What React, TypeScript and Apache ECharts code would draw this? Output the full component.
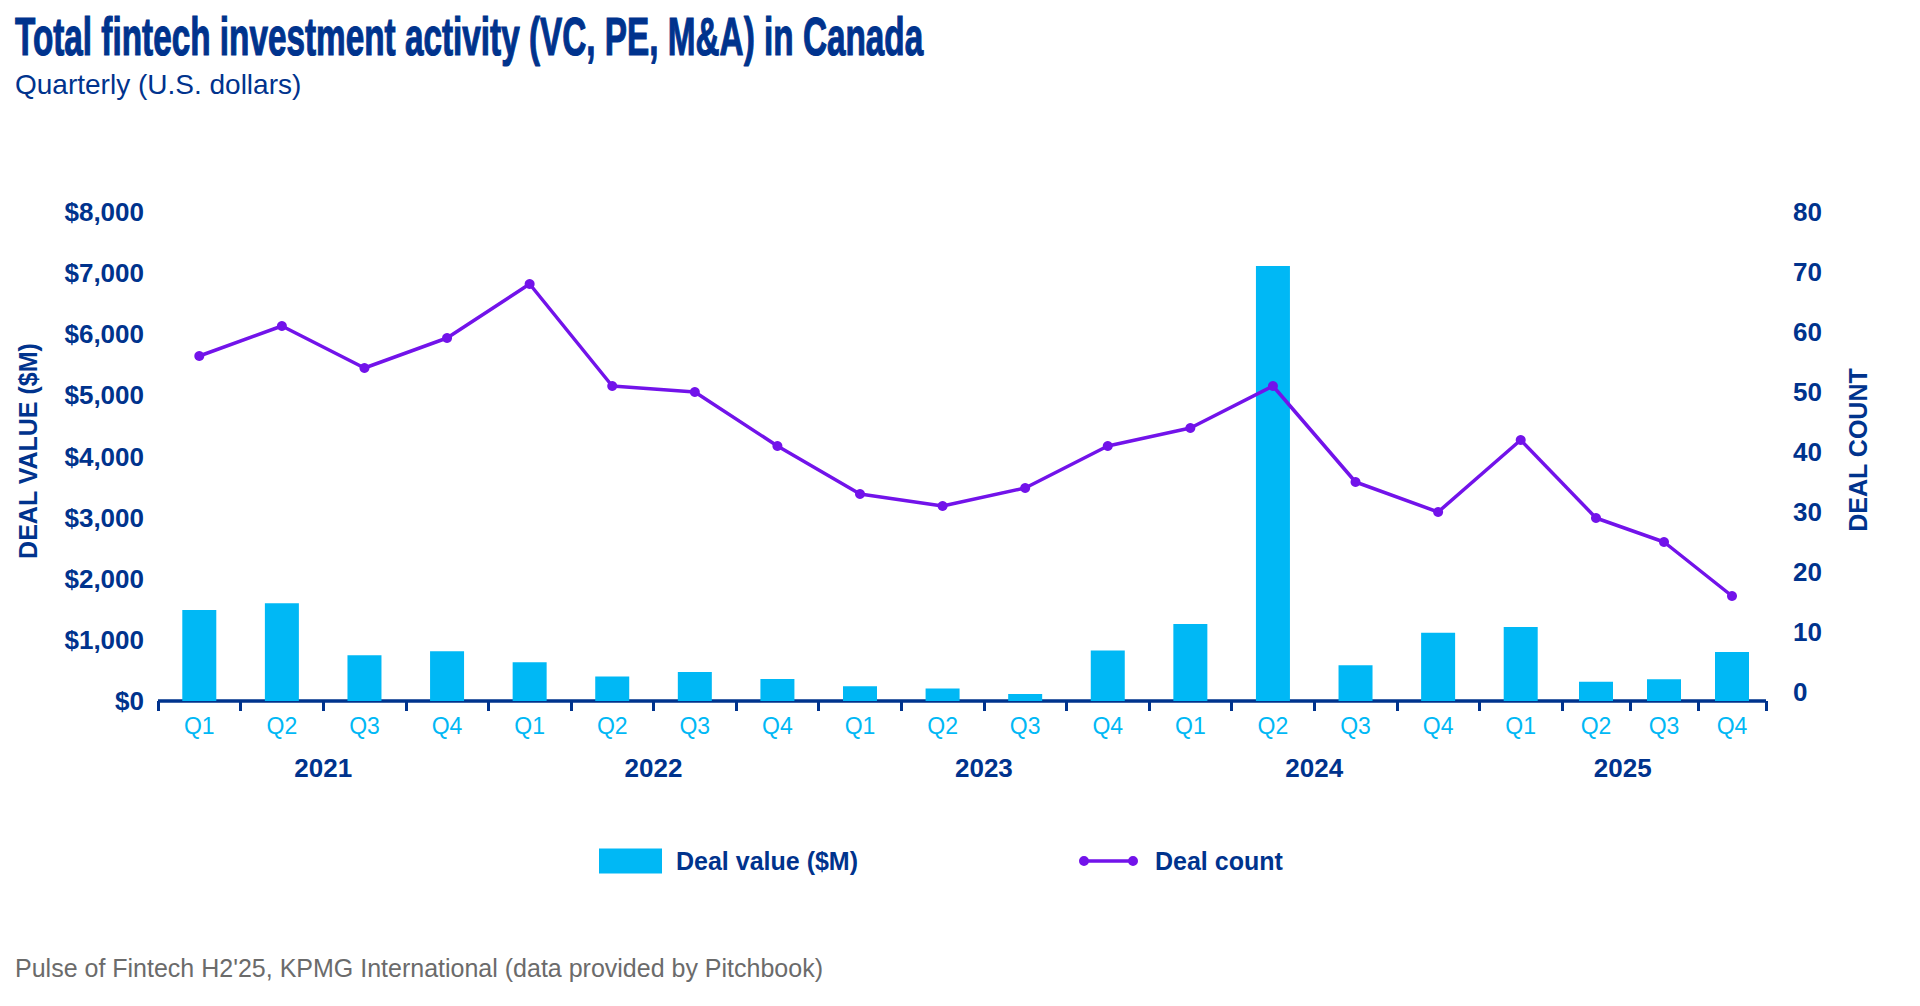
import React, { useEffect, useRef } from "react";
import * as echarts from "echarts";

const quarters = [
  "Q1", "Q2", "Q3", "Q4",
  "Q1", "Q2", "Q3", "Q4",
  "Q1", "Q2", "Q3", "Q4",
  "Q1", "Q2", "Q3", "Q4",
  "Q1", "Q2", "Q3", "Q4",
];
const years = ["2021", "2022", "2023", "2024", "2025"];
const dealValue = [1490, 1600, 750, 815, 635, 400, 475, 360, 240, 205, 115, 825, 1260, 7115, 585, 1115, 1210, 315, 355, 800];
const dealCount = [56, 61, 54, 59, 68, 51, 50, 41, 33, 31, 34, 41, 44, 51, 35, 30, 42, 29, 25, 16];

const TITLE = "Total fintech investment activity (VC, PE, M&A) in Canada";
const SUBTITLE = "Quarterly (U.S. dollars)";
const FOOTER = "Pulse of Fintech H2'25, KPMG International (data provided by Pitchbook)";
const SERIES_VALUE = "Deal value ($M)";
const SERIES_COUNT = "Deal count";
const NAME_LEFT = "DEAL VALUE ($M)";
const NAME_RIGHT = "DEAL COUNT";

const DARK = "#00338D";
const LIGHT = "#00B8F5";
const PURPLE = "#7213EA";
const GRAY = "#6B6B6B";
const SANS = "'Liberation Sans', Arial, sans-serif";
const NARROW = "'Liberation Sans Narrow', 'Liberation Sans', Arial, sans-serif";

const LINE_ICON =
  "path://M0,5A5,5 0 1 1 10,5A5,5 0 1 1 0,5Z M5,3.3H54V6.7H5Z M49,5A5,5 0 1 1 59,5A5,5 0 1 1 49,5Z";

// layout: the source chart draws its last three quarters narrower than the rest
const PLOT_LEFT = 158;
const PLOT_RIGHT = 1766;
const SPLIT_X = 1562;
const WIDE_COUNT = 17;
const CHART_W = 1920;
const CHART_H = 1006;
const BAR_TOP = 212;
const BAR_BOTTOM = 305;
const LINE_BOTTOM = 314;

function measure(text: string, font: string): number {
  const c = document.createElement("canvas").getContext("2d");
  if (!c) return 0;
  c.font = font;
  return c.measureText(text).width;
}

export default function App() {
  const ref = useRef<HTMLDivElement>(null);

  useEffect(() => {
    if (!ref.current) return;
    const chart = echarts.init(ref.current, null, { renderer: "svg" });

    const titleW = measure(TITLE, `bold 54px ${NARROW}`);
    const titleScale = titleW > 0 ? 909 / titleW : 0.75;

    const n = quarters.length;
    const w1 = (SPLIT_X - PLOT_LEFT) / WIDE_COUNT;
    const w2 = (PLOT_RIGHT - SPLIT_X) / (n - WIDE_COUNT);

    const qA = quarters.slice(0, WIDE_COUNT);
    const qB = quarters.slice(WIDE_COUNT);
    const vA = dealValue.slice(0, WIDE_COUNT);
    const vB = dealValue.slice(WIDE_COUNT);
    const cA = dealCount.slice(0, WIDE_COUNT);
    const cB = dealCount.slice(WIDE_COUNT);
    const qC = [quarters[WIDE_COUNT - 1], quarters[WIDE_COUNT]];
    const cC = [dealCount[WIDE_COUNT - 1], dealCount[WIDE_COUNT]];

    const bridgeLeft = PLOT_LEFT + (WIDE_COUNT - 0.5) * w1;
    const bridgeRight = SPLIT_X + 0.5 * w2;

    const grids = [
      { left: PLOT_LEFT, width: SPLIT_X - PLOT_LEFT, top: BAR_TOP, bottom: BAR_BOTTOM },
      { left: SPLIT_X, width: PLOT_RIGHT - SPLIT_X, top: BAR_TOP, bottom: BAR_BOTTOM },
      { left: PLOT_LEFT, width: SPLIT_X - PLOT_LEFT, top: BAR_TOP, bottom: LINE_BOTTOM },
      { left: SPLIT_X, width: PLOT_RIGHT - SPLIT_X, top: BAR_TOP, bottom: LINE_BOTTOM },
      { left: bridgeLeft, width: bridgeRight - bridgeLeft, top: BAR_TOP, bottom: LINE_BOTTOM },
    ];

    const quarterAxis = (gridIndex: number, data: string[]) => ({
      type: "category",
      gridIndex,
      data,
      position: "bottom",
      boundaryGap: true,
      axisLine: { show: true, lineStyle: { color: DARK, width: 3.5, cap: "butt" } },
      axisTick: { show: true, interval: 0, length: 10, lineStyle: { color: DARK, width: 3 } },
      axisLabel: { interval: 0, color: LIGHT, fontSize: 23, fontFamily: SANS, margin: 13 },
      splitLine: { show: false },
    });
    const hiddenCat = (gridIndex: number, data: string[], boundaryGap: boolean) => ({
      type: "category",
      gridIndex,
      data,
      show: false,
      boundaryGap,
    });
    const hiddenVal = (gridIndex: number, max: number) => ({
      type: "value",
      gridIndex,
      min: 0,
      max,
      show: false,
      splitLine: { show: false },
    });

    const lineCommon = {
      name: SERIES_COUNT,
      type: "line",
      symbol: "circle",
      symbolSize: 10,
      lineStyle: { color: PURPLE, width: 3.5 },
      itemStyle: { color: PURPLE },
      z: 5,
    };

    // year labels centred over each year's four quarters
    const quarterEdge = (i: number) =>
      i <= WIDE_COUNT ? PLOT_LEFT + i * w1 : SPLIT_X + (i - WIDE_COUNT) * w2;
    const yearGraphics = years.map((y, k) => ({
      type: "text",
      x: (quarterEdge(4 * k) + quarterEdge(4 * k + 4)) / 2,
      y: 768,
      style: {
        text: y,
        fill: DARK,
        fontSize: 26,
        fontWeight: "bold",
        fontFamily: SANS,
        textAlign: "center",
        textVerticalAlign: "middle",
      },
    }));

    const option: any = {
      animation: false,
      backgroundColor: "#ffffff",
      textStyle: { fontFamily: SANS },
      grid: grids,
      xAxis: [
        quarterAxis(0, qA),
        quarterAxis(1, qB),
        hiddenCat(2, qA, true),
        hiddenCat(3, qB, true),
        hiddenCat(4, qC, false),
      ],
      yAxis: [
        {
          type: "value",
          gridIndex: 0,
          position: "left",
          min: 0,
          max: 8000,
          interval: 1000,
          axisLine: { show: false },
          axisTick: { show: false },
          splitLine: { show: false },
          axisLabel: {
            color: DARK,
            fontSize: 26,
            fontWeight: "bold",
            fontFamily: SANS,
            margin: 14,
            formatter: (v: number) => "$" + v.toLocaleString("en-US"),
          },
        },
        hiddenVal(1, 8000),
        hiddenVal(2, 80),
        {
          type: "value",
          gridIndex: 3,
          position: "right",
          min: 0,
          max: 80,
          interval: 10,
          axisLine: { show: false },
          axisTick: { show: false },
          splitLine: { show: false },
          axisLabel: {
            color: DARK,
            fontSize: 26,
            fontWeight: "bold",
            fontFamily: SANS,
            margin: 27,
          },
        },
        hiddenVal(4, 80),
      ],
      legend: [
        {
          data: [{ name: SERIES_VALUE, icon: "rect" }],
          left: 599,
          top: 848,
          padding: 0,
          itemWidth: 63,
          itemHeight: 25,
          selectedMode: false,
          textStyle: {
            color: DARK,
            fontSize: 25,
            fontWeight: "bold",
            fontFamily: SANS,
            lineHeight: 26,
            padding: [0, 0, 0, 9],
          },
        },
        {
          data: [{ name: SERIES_COUNT, icon: LINE_ICON }],
          left: 1079,
          top: 848,
          padding: 0,
          itemWidth: 59,
          itemHeight: 10,
          selectedMode: false,
          textStyle: {
            color: DARK,
            fontSize: 25,
            fontWeight: "bold",
            fontFamily: SANS,
            lineHeight: 26,
            padding: [0, 0, 0, 12],
          },
        },
      ],
      series: [
        {
          name: SERIES_VALUE,
          type: "bar",
          xAxisIndex: 0,
          yAxisIndex: 0,
          data: vA,
          barWidth: 34,
          itemStyle: { color: LIGHT },
          z: 2,
        },
        {
          name: SERIES_VALUE,
          type: "bar",
          xAxisIndex: 1,
          yAxisIndex: 1,
          data: vB,
          barWidth: 34,
          itemStyle: { color: LIGHT },
          z: 2,
        },
        { ...lineCommon, xAxisIndex: 2, yAxisIndex: 2, data: cA },
        { ...lineCommon, xAxisIndex: 3, yAxisIndex: 3, data: cB },
        { ...lineCommon, xAxisIndex: 4, yAxisIndex: 4, data: cC, showSymbol: false, z: 4 },
      ],
      graphic: [
        {
          type: "text",
          x: 15,
          y: 36,
          scaleX: titleScale,
          style: {
            text: TITLE,
            fill: DARK,
            stroke: DARK,
            lineWidth: 1.2,
            fontSize: 54,
            fontWeight: "bold",
            fontFamily: NARROW,
            textAlign: "left",
            textVerticalAlign: "middle",
          },
        },
        {
          type: "text",
          x: 15,
          y: 84,
          style: {
            text: SUBTITLE,
            fill: DARK,
            fontSize: 28,
            fontFamily: SANS,
            textAlign: "left",
            textVerticalAlign: "middle",
          },
        },
        {
          type: "text",
          x: 28,
          y: 451,
          rotation: Math.PI / 2,
          style: {
            text: NAME_LEFT,
            fill: DARK,
            fontSize: 25,
            fontWeight: "bold",
            fontFamily: SANS,
            textAlign: "center",
            textVerticalAlign: "middle",
          },
        },
        {
          type: "text",
          x: 1858,
          y: 450,
          rotation: Math.PI / 2,
          style: {
            text: NAME_RIGHT,
            fill: DARK,
            fontSize: 25,
            fontWeight: "bold",
            fontFamily: SANS,
            textAlign: "center",
            textVerticalAlign: "middle",
          },
        },
        {
          type: "text",
          x: 15,
          y: 968,
          style: {
            text: FOOTER,
            fill: GRAY,
            fontSize: 25,
            fontFamily: SANS,
            textAlign: "left",
            textVerticalAlign: "middle",
          },
        },
        ...yearGraphics,
      ],
    };

    chart.setOption(option);
    return () => chart.dispose();
  }, []);

  return (
    <div
      ref={ref}
      style={{ position: "absolute", left: 0, top: 0, width: CHART_W, height: CHART_H, background: "#ffffff" }}
    />
  );
}
